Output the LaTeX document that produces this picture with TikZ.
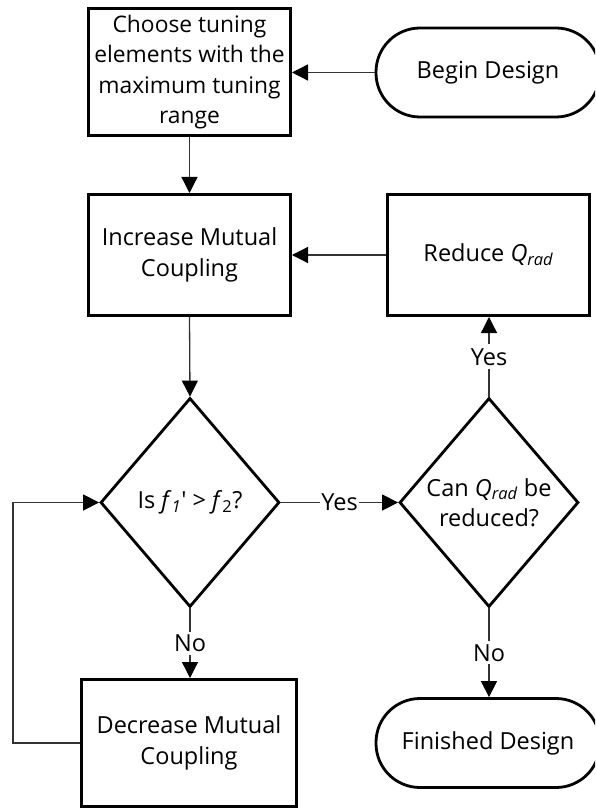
\documentclass[tikz,border=0pt]{standalone}
\usepackage{fontspec}
\setmainfont{Open Sans}
\usetikzlibrary{shapes.geometric,arrows.meta}
\tikzset{
  txt/.style={font=\fontsize{23.5}{30.5}\selectfont, align=center},
  procbox/.style={txt, draw=black, line width=3pt, rectangle, inner sep=0pt},
  termbox/.style={txt, draw=black, line width=2.8pt, rectangle, rounded corners=44pt, inner sep=0pt, minimum width=224pt, minimum height=89pt},
  decbox/.style={draw=black, line width=2.8pt, diamond, inner sep=0pt, minimum width=179pt, minimum height=209pt},
  conn/.style={draw=black!80, line width=1.3pt, -{Triangle[length=16pt,width=16pt,black]}},
  lbl/.style={txt, fill=white, inner sep=1pt}
}
\begin{document}
\begin{tikzpicture}[x=1pt,y=-1pt]
\useasboundingbox (0,0) rectangle (595,810);
\clip (0,0) rectangle (595,810);
\fill[white] (0,0) rectangle (595,810);

\node[procbox, font=\fontsize{22.8}{30.5}\selectfont, minimum width=202pt, minimum height=127pt] (choose) at (189.5,72) {Choose tuning\\elements with the\\maximum tuning\\range};
\node[termbox] (begin) at (488,72.5) {Begin Design};
\node[procbox, minimum width=202pt, minimum height=121pt] (increase) at (189.5,255) {Increase Mutual\\Coupling};
\node[procbox, minimum width=202pt, minimum height=121pt] (reduce) at (488.5,255) {Reduce \textit{Q}\textsubscript{\textit{rad}}};
\node[decbox, label={[txt]center:Is \textit{f}\textsubscript{\textit{1}}\textquotesingle{} > \textit{f}\textsubscript{2}?}] (d1) at (190,502.5) {};
\node[decbox, label={[txt]center:Can \textit{Q}\textsubscript{\textit{rad}} be\\reduced?}] (d2) at (489,502.5) {};
\node[procbox, minimum width=215pt, minimum height=127pt] (decrease) at (189,743) {Decrease Mutual\\Coupling};
\node[termbox] (finished) at (488,743) {Finished Design};

\draw[conn] (begin.west) -- (choose.east |- begin.west);
\draw[conn] (choose.south) -- (increase.north);
\draw[conn] (reduce.west) -- (increase.east |- reduce.west);
\draw[conn] (increase.south) -- (d1.north);
\draw[conn] (d1.east) -- node[lbl] (yes1) {Yes} (d2.west);
\draw[conn] (d2.north) -- node[lbl, inner ysep=4pt] (yes2) {Yes} (reduce.south -| d2.north);
\draw[conn] (d1.south) -- node[lbl, inner ysep=3pt] (no1) {No} (decrease.north -| d1.south);
\draw[conn] (d2.south) -- node[lbl, inner ysep=3pt] (no2) {No} (finished.north -| d2.south);
\coordinate (loopA) at (13,743);
\coordinate (loopB) at (13,502.5);
\draw[conn] (decrease.west) -- (loopA) -- (loopB) -- (d1.west);
\end{tikzpicture}
\end{document}
